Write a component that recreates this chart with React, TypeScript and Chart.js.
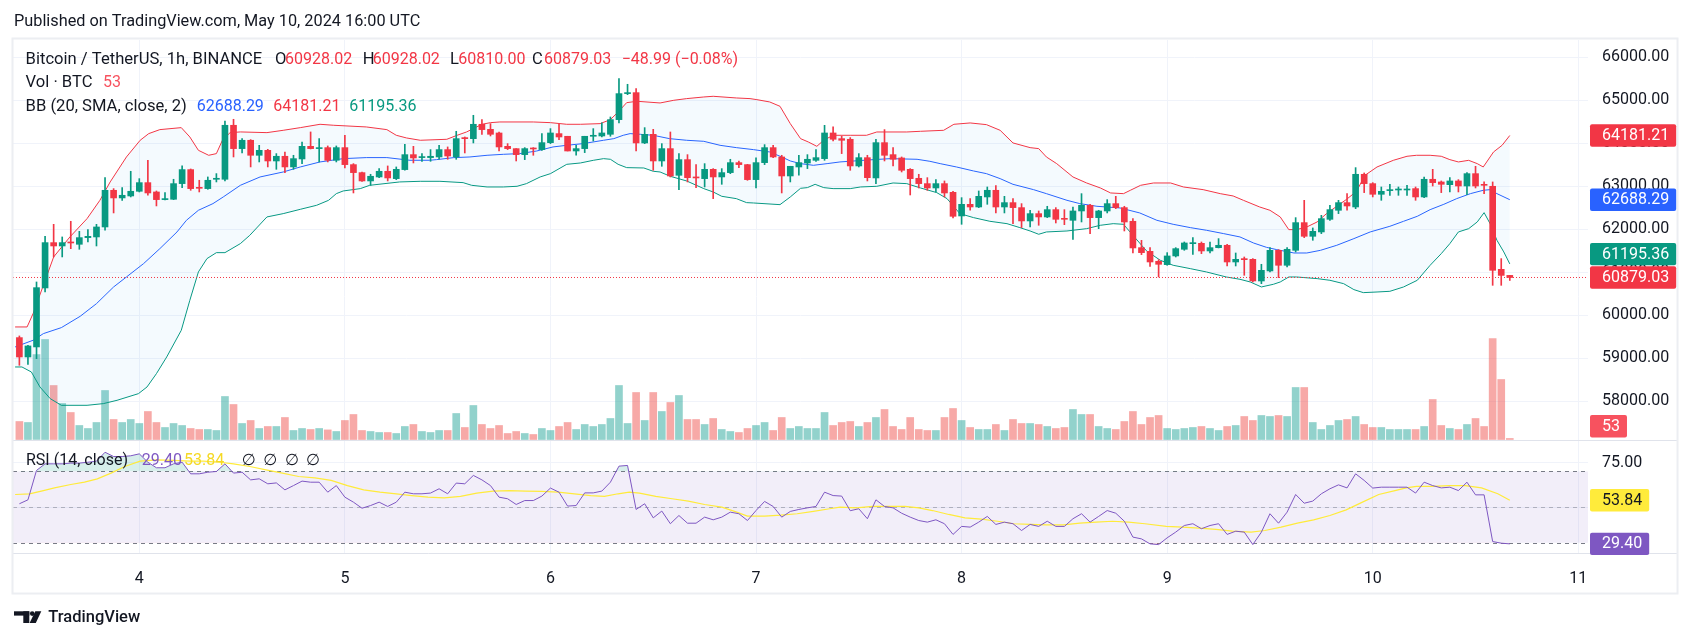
import React, { useEffect, useRef } from "react";
import { Chart, registerables } from "chart.js";

Chart.register(...registerables);

// ---------------- data (BTC/USDT 1h, Binance) ----------------
// x values are hours counted from May 3, 00:00 UTC; first candle = May 3, 10:00
const FIRST_HOUR = 10;

const opens = [
  59481, 59031, 59264, 60636, 61690, 61612, 61705, 61651, 61806, 61822,
  62054, 62907, 62729, 62775, 62884, 63085, 62868, 62690, 62698, 63062,
  63388, 62969, 62946, 63163, 63163, 64419, 63876, 64070, 63721, 63837,
  63589, 63698, 63450, 63636, 63930, 63876, 63899, 63605, 63899, 63504,
  63318, 63124, 63217, 63349, 63178, 63388, 63736, 63667, 63667, 63682,
  63853, 63682, 64132, 64108, 64442, 64325, 64240, 63930, 63876, 63736,
  63884, 63853, 64015, 64225, 64163, 63821, 63876, 64163, 64170, 64209,
  64550, 65155, 65178, 64008, 64209, 63589, 63876, 63256, 63620, 63209,
  63178, 63395, 63217, 63318, 63550, 63504, 63155, 63550, 63899, 63682,
  63240, 63449, 63542, 63604, 63643, 64240, 64108, 64093, 63473, 63666,
  63194, 64015, 63736, 63659, 63395, 63186, 63062, 62961, 63062, 62860,
  62310, 62581, 62519, 62752, 62907, 62519, 62620, 62504, 62194, 62364,
  62287, 62457, 62248, 62209, 62426, 62558, 62271, 62426, 62597, 62504,
  62186, 61573, 61488, 61256, 61178, 61380, 61535, 61666, 61674, 61496,
  61573, 61628, 61240, 61310, 61302, 60798, 61031, 61511, 61163, 61511,
  62155, 61837, 61938, 62232, 62442, 62620, 62519, 63279, 63062, 62814,
  62899, 62914, 62914, 62946, 62752, 63163, 63101, 63038, 63124, 63007,
  63294, 63046, 63000, 61069, 60928.02,
];
const highs = [
  59520, 59300, 60775, 61837, 62116, 61822, 62186, 61953, 61992, 62116,
  63202, 62946, 62969, 63349, 63178, 63605, 62891, 62853, 63163, 63473,
  63403, 63140, 63217, 63295, 64519, 64558, 64109, 64085, 63953, 63860,
  63760, 63798, 63721, 64031, 64264, 64109, 63938, 63938, 64186, 63527,
  63333, 63279, 63411, 63473, 63450, 63977, 63930, 63760, 63853, 63953,
  63915, 64279, 64147, 64651, 64550, 64457, 64263, 63992, 63876, 63899,
  63899, 64225, 64341, 64442, 64163, 63953, 64163, 64341, 64473, 64612,
  65504, 65372, 65271, 64364, 64325, 63992, 64263, 63760, 63736, 63503,
  63527, 63411, 63411, 63628, 63589, 63511, 63659, 63969, 63953, 63721,
  63465, 63721, 63736, 63853, 64418, 64380, 64163, 64132, 63760, 63721,
  64093, 64318, 63899, 63682, 63411, 63279, 63201, 63155, 63124, 62883,
  62736, 62713, 62891, 62984, 63015, 62767, 62713, 62597, 62442, 62426,
  62535, 62504, 62457, 62519, 62829, 62581, 62442, 62690, 62767, 62535,
  62248, 61744, 61573, 61294, 61457, 61573, 61705, 61806, 61705, 61705,
  61783, 61651, 61449, 61356, 61318, 61186, 61573, 61527, 61573, 62271,
  62674, 62031, 62325, 62558, 62674, 62829, 63434, 63310, 63085, 62984,
  63046, 62984, 63023, 62984, 63217, 63395, 63124, 63201, 63155, 63318,
  63465, 63101, 63101, 61318, 60928.02,
];
const lows = [
  58837, 58860, 58992, 60543, 61357, 61357, 61550, 61535, 61705, 61612,
  61977, 62380, 62674, 62752, 62868, 62791, 62543, 62682, 62690, 62969,
  62907, 62868, 62930, 63101, 63124, 63682, 63775, 63450, 63566, 63450,
  63395, 63318, 63395, 63527, 63868, 63566, 63566, 63566, 63426, 62845,
  63116, 63023, 63202, 63124, 63155, 63372, 63543, 63581, 63581, 63628,
  63628, 63628, 63775, 64008, 64209, 64170, 63821, 63853, 63589, 63620,
  63721, 63837, 63992, 64085, 63821, 63721, 63783, 64054, 64147, 64163,
  64473, 65131, 63821, 63992, 63372, 63465, 63217, 62922, 63101, 62969,
  62984, 62713, 63046, 63294, 63434, 63139, 62961, 63504, 63666, 62845,
  63101, 63256, 63411, 63581, 63604, 64054, 63760, 63372, 63449, 63124,
  63062, 63589, 63473, 63333, 62798, 62961, 62907, 62868, 62752, 62263,
  62116, 62442, 62504, 62581, 62380, 62380, 62131, 62039, 62054, 62093,
  62271, 62147, 62108, 61767, 62170, 61899, 62015, 62380, 62480, 61961,
  61449, 61411, 61139, 60891, 61163, 61356, 61511, 61418, 61434, 61449,
  61566, 61147, 61147, 60930, 60775, 60736, 61007, 60876, 61124, 61473,
  61806, 61744, 61899, 62209, 62364, 62442, 62480, 62853, 62752, 62674,
  62790, 62790, 62790, 62674, 62736, 63007, 62853, 62868, 62868, 62806,
  62961, 62829, 60697, 60697, 60810.0,
];
const closes = [
  59031, 59287, 60643, 61690, 61612, 61690, 61682, 61806, 61837, 62054,
  62907, 62729, 62791, 62884, 63085, 62845, 62690, 62713, 63062, 63388,
  62946, 62953, 63140, 63178, 64419, 63876, 64070, 63721, 63837, 63589,
  63698, 63450, 63643, 63930, 63876, 63884, 63605, 63899, 63504, 63318,
  63124, 63233, 63349, 63194, 63395, 63736, 63659, 63682, 63698, 63853,
  63705, 64108, 64108, 64442, 64318, 64209, 63915, 63876, 63736, 63876,
  63868, 64015, 64240, 64147, 63821, 63876, 64163, 64178, 64240, 64550,
  65155, 65170, 64008, 64209, 63589, 63876, 63240, 63620, 63201, 63194,
  63395, 63217, 63318, 63550, 63504, 63155, 63550, 63899, 63682, 63240,
  63465, 63550, 63628, 63666, 64240, 64093, 64070, 63473, 63666, 63201,
  64015, 63721, 63628, 63372, 63178, 63062, 62961, 63062, 62845, 62302,
  62581, 62519, 62767, 62907, 62519, 62620, 62504, 62194, 62364, 62287,
  62457, 62232, 62232, 62426, 62558, 62271, 62426, 62597, 62504, 62170,
  61566, 61457, 61240, 61186, 61380, 61550, 61682, 61682, 61496, 61573,
  61628, 61240, 61302, 61294, 60798, 61046, 61511, 61163, 61535, 62155,
  61837, 61953, 62248, 62457, 62620, 62542, 63279, 63062, 62814, 62883,
  62914, 62930, 62930, 62752, 63163, 63085, 63046, 63124, 63007, 63294,
  63007, 63023, 61046, 60928.02, 60879.03,
];
// volume in BTC
const volumes = [
  900, 850, 4250, 5000, 2700, 1800, 1350, 700, 550, 850,
  2450, 1000, 850, 1000, 800, 1400, 850, 600, 800, 700,
  550, 500, 500, 450, 2150, 1750, 800, 950, 550, 650,
  650, 1100, 450, 550, 500, 550, 480, 400, 950, 1250,
  450, 400, 350, 350, 300, 650, 750, 400, 350, 450,
  450, 1300, 600, 1700, 750, 550, 700, 300, 400, 300,
  250, 550, 450, 650, 850, 500, 750, 650, 750, 1050,
  2700, 800, 2350, 950, 2350, 1400, 1850, 2200, 1000, 1000,
  750, 1050, 500, 400, 350, 550, 700, 850, 450, 1100,
  550, 650, 550, 550, 1350, 700, 850, 900, 650, 850,
  1100, 1500, 650, 500, 1100, 500, 450, 450, 1100, 1550,
  950, 600, 500, 500, 750, 450, 1000, 800, 800, 750,
  650, 550, 600, 1500, 1250, 1250, 650, 550, 500, 900,
  1400, 750, 1100, 1200, 550, 500, 550, 600, 650, 550,
  450, 650, 700, 1150, 950, 1200, 1150, 1200, 1150, 2600,
  2600, 850, 500, 700, 950, 1000, 1150, 750, 600, 600,
  500, 500, 500, 500, 650, 2000, 700, 550, 500, 750,
  1050, 650, 5050, 3000, 53,
];
const rsiValues = [
  51.9, 54.1, 70.6, 74.3, 74.3, 74.3, 74.7, 74.7, 75.2, 75.8,
  80.8, 78.4, 78.4, 78.8, 79.9, 75.2, 72.1, 72.1, 74.3, 75.2,
  68.7, 68.7, 69.6, 70.0, 74.3, 69.1, 69.6, 65.3, 65.9, 63.1,
  63.6, 59.7, 62.1, 64.6, 64.0, 64.0, 58.4, 62.1, 55.6, 52.8,
  49.4, 50.9, 52.8, 50.4, 52.8, 58.4, 57.5, 57.5, 57.9, 60.3,
  57.5, 63.5, 63.1, 67.8, 65.3, 62.1, 55.6, 54.7, 51.5, 53.7,
  53.7, 56.2, 60.7, 58.4, 50.6, 50.9, 58.0, 58.0, 59.0, 64.0,
  73.0, 73.4, 48.7, 51.9, 44.0, 47.8, 40.7, 45.3, 41.0, 41.0,
  44.4, 42.9, 44.4, 47.2, 46.3, 42.5, 48.1, 53.2, 50.4, 44.4,
  47.6, 48.7, 49.6, 50.4, 58.4, 56.5, 56.2, 48.0, 49.1, 43.5,
  54.1, 50.4, 49.6, 46.6, 44.4, 42.5, 41.6, 42.9, 40.7, 34.7,
  39.2, 38.8, 41.6, 44.8, 40.3, 41.6, 40.7, 36.9, 40.3, 39.2,
  42.1, 39.2, 39.2, 43.5, 46.3, 41.6, 44.8, 48.1, 46.6, 42.1,
  33.2, 32.2, 29.4, 29.0, 32.8, 36.0, 39.7, 40.7, 37.9, 39.7,
  40.7, 34.7, 36.5, 36.0, 29.0, 36.0, 46.3, 41.0, 47.2, 57.1,
  52.2, 53.4, 57.5, 60.3, 62.5, 60.8, 68.7, 65.0, 60.7, 61.2,
  61.2, 61.2, 61.2, 57.9, 64.0, 62.1, 60.8, 61.2, 59.3, 64.0,
  56.9, 56.9, 30.7, 29.8, 29.4,
];

// RSI-based MA
const rsiMaHours = [
  9.5, 11.2, 12.8, 14.1, 16.0, 17.6, 19.1, 20.7, 22.3, 24.1, 26.1, 28.0, 29.9, 31.5,
  33.4, 35.0, 36.9, 38.8, 40.7, 42.6, 44.5, 46.4, 48.3, 50.2, 52.1, 54.0, 55.8, 57.7,
  59.6, 61.5, 63.4, 65.3, 67.2, 69.1, 71.0, 72.9, 74.8, 76.7, 78.3, 79.9, 81.2, 82.4,
  84.3, 86.2, 88.1, 90.0, 92.0, 93.5, 95.0, 97.0, 98.9, 100.8, 102.7, 104.6, 105.8,
  107.7, 109.6, 111.5, 113.4, 115.0, 116.6, 118.5, 120.4, 122.3, 124.2, 126.1, 128.0,
  129.9, 131.9, 133.8, 135.7, 137.6, 139.5, 141.4, 143.9, 145.8, 147.7, 149.7, 151.6,
  153.8, 155.4, 157.3, 159.2, 161.1, 163.0, 164.9, 166.8, 168.7, 170.6, 171.9, 173.1,
  175.0, 176.9, 178.8, 180.7, 182.6, 184.0,
];
const rsiMaValues = [
  57.1, 57.5, 59.3, 60.8, 62.7, 64.0, 65.9, 69.1, 72.8, 75.8, 76.5, 76.2, 75.8, 75.8,
  75.2, 74.3, 72.8, 70.9, 69.1, 67.2, 66.4, 65.0, 62.1, 59.7, 58.4, 57.5, 56.5, 55.6,
  55.2, 56.0, 57.9, 59.0, 59.3, 59.0, 58.8, 58.4, 57.5, 56.5, 56.0, 57.5, 58.4, 57.9,
  56.0, 54.7, 53.4, 51.5, 50.0, 47.6, 45.0, 45.0, 45.5, 46.3, 47.6, 49.1, 50.0,
  49.6, 50.4, 50.4, 50.4, 49.6, 48.1, 45.9, 44.0, 43.3, 42.1, 40.7, 40.3,
  40.1, 40.1, 41.0, 41.6, 42.1, 41.6, 40.7, 39.2, 38.8, 38.2, 37.5, 36.5,
  36.0, 36.9, 38.8, 41.0, 42.9, 45.3, 48.5, 52.8, 57.1, 59.3, 60.8, 61.6,
  61.6, 62.1, 62.1, 60.8, 57.5, 53.84,
];

// Bollinger Bands (20, SMA, close, 2)
const bbUpperHours = [
  9.5, 10.9, 11.6, 12.8, 14.0, 15.9, 17.9, 19.4, 20.6, 22.5, 24.1, 25.1, 26.4, 28.9, 29.9,
  30.9, 32.1, 33.0, 33.7, 34.6, 35.8, 38.9, 40.8, 42.8, 45.1, 46.7, 50.5, 52.9, 54.0, 55.2,
  56.8, 59.9, 61.1, 62.2, 63.0, 64.0, 65.0, 66.1, 70.0, 72.0, 73.9, 75.5, 77.8, 79.0, 79.9,
  80.9, 82.1, 84.8, 86.4, 87.9, 89.9, 91.0, 93.7, 95.3, 96.1, 97.6, 98.8, 100.0, 101.2,
  102.1, 103.1, 103.9, 105.0, 107.0, 108.9, 110.1, 113.6, 115.2, 117.9, 119.1, 121.0,
  122.9, 124.5, 126.0, 128.0, 129.0, 129.9, 131.1, 133.0, 134.6, 136.2, 137.4, 138.9,
  139.7, 140.9, 142.4, 144.4, 145.9, 148.2, 150.2, 151.7, 152.9, 154.8, 156.0, 157.2,
  158.2, 159.1, 160.3, 161.5, 162.6, 163.8, 164.9, 166.1, 167.1, 168.5, 170.4, 172.0,
  173.1, 174.7, 176.0, 177.0, 178.0, 179.2, 180.2, 180.9, 182.1, 183.1, 184.0,
];
const bbUpper = [
  59729, 59729, 60039, 60698, 61357, 61822, 62248, 62674, 63101, 63682, 64070, 64225, 64318, 64364, 64147,
  63837, 63721, 63760, 64070, 64248, 64264, 64248, 64302, 64364, 64442, 64419, 64380, 64318, 64186, 64124,
  64070, 64093, 64186, 64263, 64341, 64442, 64480, 64496, 64496, 64480, 64442, 64442, 64457, 64550, 64728,
  64945, 64977, 64938, 65000, 65039, 65077, 65093, 65054, 65039, 65015, 64961, 64860, 64457, 64108,
  64031, 63930, 64070, 64186, 64186, 64186, 64263, 64263, 64279, 64302, 64442, 64473,
  64434, 64302, 64008, 63899, 63876, 63682, 63527, 63217, 63077, 62961, 62845, 62829,
  62907, 63023, 63077, 63077, 62984, 62922, 62829, 62775, 62674, 62519, 62442, 62287,
  61992, 61992, 62054, 62170, 62364, 62535, 62690, 62883, 63256, 63449, 63604, 63698,
  63721, 63721, 63698, 63620, 63566, 63604, 63527, 63449, 63798, 63953, 64181.21,
];
const bbMiddleHours = [
  9.5, 11.6, 12.8, 14.9, 17.1, 19.0, 21.0, 22.5, 24.5, 26.4, 28.4, 29.5, 30.9, 32.6, 33.8,
  35.8, 38.1, 40.8, 42.8, 45.1, 47.8, 50.5, 52.9, 55.6, 57.9, 58.7, 60.7, 62.6, 64.6, 66.5,
  68.4, 70.4, 72.3, 73.9, 75.8, 78.2, 79.4, 80.5, 81.3, 82.5, 84.0, 85.9, 87.9, 89.9, 91.8,
  93.7, 95.7, 97.6, 99.0, 100.0, 101.2, 102.7, 104.3, 105.8, 109.7, 111.7, 114.8, 116.3,
  117.5, 119.4, 121.4, 122.9, 124.5, 126.0, 128.4, 129.9, 132.3, 133.8, 135.8, 138.5,
  140.8, 142.8, 144.7, 146.7, 148.6, 150.6, 152.5, 154.1, 155.6, 156.8, 158.8, 160.3,
  161.9, 163.8, 165.8, 167.7, 170.0, 171.6, 173.2, 174.7, 176.3, 177.8, 179.4, 180.9,
  181.7, 182.5, 184.0,
];
const bbMiddle = [
  59264, 59419, 59574, 59713, 59977, 60271, 60659, 60891, 61202, 61550, 61938, 62209, 62442, 62597, 62752,
  63023, 63217, 63333, 63450, 63566, 63643, 63667, 63667, 63605, 63605, 63620, 63666, 63682, 63721, 63744,
  63760, 63821, 63915, 63953, 63992, 64070, 64108, 64186, 64225, 64209, 64186, 64108, 64070, 64046, 63953,
  63899, 63853, 63798, 63682, 63589, 63527, 63488, 63527, 63566, 63620, 63643, 63628, 63581,
  63527, 63449, 63356, 63294, 63178, 63046, 62922, 62829, 62674, 62597, 62535, 62496,
  62380, 62209, 62116, 62039, 61977, 61899, 61822, 61680, 61580, 61527, 61449, 61449,
  61511, 61628, 61783, 61938, 62070, 62186, 62302, 62457, 62581, 62713, 62829, 62907,
  62922, 62829, 62688.29,
];
const bbLowerHours = [
  9.5, 10.3, 11.4, 12.4, 13.6, 14.9, 17.9, 19.8, 21.4, 23.9, 24.9, 26.0, 27.2, 28.9, 29.9,
  30.9, 31.9, 33.0, 34.0, 35.8, 36.9, 38.9, 40.8, 42.8, 44.7, 46.1, 47.0, 47.8, 49.8, 50.9,
  54.4, 56.8, 59.1, 61.8, 62.8, 64.6, 66.5, 68.1, 69.2, 70.8, 72.0, 73.9, 75.5, 77.0, 78.2,
  79.0, 79.9, 80.9, 82.9, 84.0, 84.8, 86.0, 87.9, 89.9, 91.0, 92.0, 93.7, 94.9, 95.7, 98.8,
  100.0, 101.2, 102.0, 102.9, 103.9, 105.0, 107.0, 108.2, 110.1, 112.0, 113.6, 115.2, 117.1,
  118.3, 119.8, 121.4, 123.3, 125.3, 126.8, 128.0, 129.0, 129.9, 132.3, 134.6, 136.2, 137.7,
  138.9, 140.0, 141.6, 143.2, 144.7, 146.7, 148.6, 150.9, 152.5, 153.7, 155.0, 156.4, 157.2,
  158.2, 159.1, 161.5, 163.0, 164.6, 165.8, 166.9, 168.5, 170.0, 171.6, 173.2, 174.7, 176.0,
  177.0, 178.0, 179.2, 180.2, 181.0, 181.7, 182.5, 183.3, 184.0,
];
const bbLower = [
  58798, 58798, 58682, 58333, 58062, 57907, 57907, 57946, 58023, 58178, 58333, 58643, 59031, 59651, 60349,
  61008, 61318, 61457, 61457, 61667, 61860, 62287, 62364, 62465, 62558, 62674, 62829, 62891, 62946, 63023,
  63101, 63116, 63116, 63085, 63023, 62984, 62984, 63000, 63062, 63217, 63294, 63511, 63542, 63604, 63643,
  63628, 63511, 63434, 63426, 63349, 63333, 63232, 63124, 62946, 62868, 62767, 62713, 62620, 62612, 62573,
  62752, 62953, 62969, 63046, 62969, 62946, 62946, 62984, 63000, 63077, 63062, 62961, 62853,
  62713, 62364, 62271, 62186, 62131, 62039, 61961, 61884, 61938, 61961, 62015, 62093, 62131,
  62116, 61860, 61496, 61279, 61163, 61085, 61007, 60891, 60837, 60775, 60659, 60721, 60775,
  60891, 60891, 60853, 60814, 60736, 60597, 60527, 60542, 60558, 60659, 60814, 61163, 61434,
  61666, 61938, 62015, 62170, 62387, 62131, 61744, 61473, 61195.36,
];

const dayTickHours = [24, 48, 72, 96, 120, 144, 168, 192];
const dayTickLabels = ["4", "5", "6", "7", "8", "9", "10", "11"];
const priceTicks = [58000, 59000, 60000, 61000, 62000, 63000, 64000, 65000, 66000];
const rsiTicks = [50, 75];
const rsiLevels = [70, 50, 30];

// visible window
const VIEW_START = 9.255;
const VIEW_END = 193.13;
const PRICE_MIN = 57100;
const PRICE_MAX = 66402;
const RSI_MIN = 24.28;
const RSI_MAX = 87.67;
const VOL_MIN = -5675;
const VOL_MAX = 19975;

// ---------------- style ----------------
const FONT_FAMILY = 'Roboto, "Liberation Sans", "DejaVu Sans", sans-serif';
const TEXT = "#131722";
const UP = "#089981";
const DOWN = "#F23645";
const BB_BASIS = "#2962FF";
const RSI_COLOR = "#7E57C2";
const RSI_MA_COLOR = "#FFEB3B";
const VOL_LABEL = "#F7525F";
const GRID = "#f0f3fa";
const SEP = "#e0e3eb";

const font = (size: number, weight: string | number = "normal") => `${weight} ${size}px ${FONT_FAMILY}`;
const fmt = (v: number) => v.toFixed(2);

function roundRect(ctx: CanvasRenderingContext2D, x: number, y: number, w: number, h: number, r: number) {
  ctx.beginPath();
  ctx.moveTo(x + r, y);
  ctx.lineTo(x + w - r, y);
  ctx.quadraticCurveTo(x + w, y, x + w, y + r);
  ctx.lineTo(x + w, y + h - r);
  ctx.quadraticCurveTo(x + w, y + h, x + w - r, y + h);
  ctx.lineTo(x + r, y + h);
  ctx.quadraticCurveTo(x, y + h, x, y + h - r);
  ctx.lineTo(x, y + r);
  ctx.quadraticCurveTo(x, y, x + r, y);
  ctx.closePath();
}

const panesPlugin = {
  id: "panes",
  beforeDatasetsDraw(chart: any) {
    const { ctx, chartArea: a } = chart;
    const yr = chart.scales.yr;
    const yTop = yr.getPixelForValue(rsiLevels[0]);
    const yBot = yr.getPixelForValue(rsiLevels[2]);
    ctx.save();
    ctx.fillStyle = "rgba(126,87,194,0.1)";
    ctx.fillRect(a.left, yTop, a.right - a.left, yBot - yTop);
    ctx.setLineDash([4, 4]);
    ctx.lineWidth = 1;
    rsiLevels.forEach((lvl, i) => {
      const y = Math.round(yr.getPixelForValue(lvl)) + 0.5;
      ctx.strokeStyle = i === 1 ? "rgba(120,123,134,0.5)" : "rgba(120,123,134,1)";
      ctx.beginPath();
      ctx.moveTo(a.left, y);
      ctx.lineTo(a.right, y);
      ctx.stroke();
    });
    ctx.restore();
  },
  afterDraw(chart: any) {
    const { ctx, chartArea: a } = chart;
    const sy = chart.scales.y;
    const syr = chart.scales.yr;
    const syv = chart.scales.yv;
    const n = closes.length;
    const frameL = 12.5;
    const frameR = 1677.5;
    const frameT = 38.5;
    const frameB = 593.5;

    ctx.save();
    // pane separator + time-axis line + frame
    ctx.strokeStyle = SEP;
    ctx.lineWidth = 1;
    const sepY = Math.round(sy.bottom) + 0.5;
    ctx.beginPath();
    ctx.moveTo(frameL, sepY);
    ctx.lineTo(frameR, sepY);
    const axY = Math.round(a.bottom) + 0.5;
    ctx.moveTo(frameL, axY);
    ctx.lineTo(frameR, axY);
    ctx.stroke();
    ctx.lineWidth = 2;
    ctx.strokeStyle = "#eceef2";
    ctx.strokeRect(frameL, frameT, frameR - frameL, frameB - frameT);

    // texts
    ctx.textBaseline = "middle";
    ctx.textAlign = "left";
    const put = (t: string, x: number, y: number, c: string, f = font(16)) => {
      ctx.font = f;
      ctx.fillStyle = c;
      ctx.fillText(t, x, y);
      return x + ctx.measureText(t).width;
    };
    const wordFont = font(16.6);

    put("Published on TradingView.com, May 10, 2024 16:00 UTC", 14, 21.5, TEXT, font(16.3));

    // legend line 1
    const last = n - 1;
    const lastUp = closes[last] >= opens[last];
    const valColor = lastUp ? UP : DOWN;
    const y1 = 59.5;
    put("Bitcoin / TetherUS, 1h, BINANCE", 25.6, y1, TEXT, wordFont);
    const ohlc: [string, number, number, number][] = [
      ["O", opens[last], 275, 285],
      ["H", highs[last], 362.7, 372.7],
      ["L", lows[last], 450, 458.3],
      ["C", closes[last], 532, 544],
    ];
    ohlc.forEach(([k, v, xk, xv]) => {
      put(k, xk, y1, TEXT, wordFont);
      put(fmt(v), xv, y1, valColor);
    });
    const prev = closes[last - 1];
    const ch = closes[last] - prev;
    const pct = (ch / prev) * 100;
    const sign = ch < 0 ? "\u2212" : "+";
    put(`${sign}${Math.abs(ch).toFixed(2)} (${sign}${Math.abs(pct).toFixed(2)}%)`, 621.7, y1, valColor);

    // legend line 2
    const y2 = 83.3;
    put("Vol \u00b7 BTC", 25.6, y2, TEXT, wordFont);
    put(String(volumes[last]), 103, y2, VOL_LABEL);

    // legend line 3
    const y3 = 107;
    put("BB (20, SMA, close, 2)", 25.6, y3, TEXT, wordFont);
    put(fmt(bbMiddle[bbMiddle.length - 1]), 196.7, y3, BB_BASIS);
    put(fmt(bbUpper[bbUpper.length - 1]), 273.3, y3, DOWN);
    put(fmt(bbLower[bbLower.length - 1]), 349.3, y3, UP);

    // RSI legend
    const y4 = 461.3;
    put("RSI (14, close)", 26, y4, TEXT);
    put(fmt(rsiValues[last]), 141.7, y4, RSI_COLOR);
    put(fmt(rsiMaValues[rsiMaValues.length - 1]), 184, y4, "#F5D924");
    [241.7, 263.3, 285, 306].forEach((x) => put("\u2205", x, y4, TEXT));

    // axis value labels
    const boxL = a.right + 2;
    const txtX = a.right + 14;
    const boxH = 22.4;
    const drawBox = (t: string, yc: number, bg: string, fg: string) => {
      ctx.font = font(16);
      const w = ctx.measureText(t).width;
      ctx.fillStyle = bg;
      roundRect(ctx, boxL, yc - boxH / 2, txtX - boxL + w + 7, boxH, 2);
      ctx.fill();
      ctx.fillStyle = fg;
      ctx.fillText(t, txtX, yc + 0.5);
    };

    const priceLabels = [
      { v: bbUpper[bbUpper.length - 1], bg: DOWN },
      { v: bbMiddle[bbMiddle.length - 1], bg: BB_BASIS },
      { v: bbLower[bbLower.length - 1], bg: UP },
      { v: closes[last], bg: valColor },
    ].map((l) => ({ ...l, y: sy.getPixelForValue(l.v) }));
    // resolve overlaps from the bottom up
    const sorted = [...priceLabels].sort((p, q) => q.y - p.y);
    for (let i = 1; i < sorted.length; i++) {
      const below = sorted[i - 1];
      if (sorted[i].y > below.y - boxH - 1) sorted[i].y = below.y - boxH - 1;
    }
    priceLabels.slice(0, 3).forEach((l) => drawBox(fmt(l.v), l.y, l.bg, "#ffffff"));
    drawBox(fmt(priceLabels[3].v), priceLabels[3].y, priceLabels[3].bg, "#ffffff");

    const volY = Math.min(syv.getPixelForValue(volumes[last]), sy.bottom - 2.5 - boxH / 2);
    drawBox(String(volumes[last]), volY, VOL_LABEL, "#ffffff");

    drawBox(fmt(rsiMaValues[rsiMaValues.length - 1]), syr.getPixelForValue(rsiMaValues[rsiMaValues.length - 1]), RSI_MA_COLOR, TEXT);
    drawBox(fmt(rsiValues[last]), syr.getPixelForValue(rsiValues[last]), RSI_COLOR, "#ffffff");

    // TradingView logo
    ctx.fillStyle = TEXT;
    ctx.fillRect(14, 611.3, 15.3, 4.3);
    ctx.fillRect(23.3, 611.3, 6, 11.7);
    ctx.beginPath();
    ctx.arc(32.2, 613.6, 2.3, 0, Math.PI * 2);
    ctx.fill();
    ctx.beginPath();
    ctx.moveTo(35.3, 611.3);
    ctx.lineTo(41.3, 611.3);
    ctx.lineTo(35.8, 623);
    ctx.lineTo(29.6, 623);
    ctx.closePath();
    ctx.fill();
    put("TradingView", 48.3, 617.8, TEXT, font(16.5, 500));

    ctx.restore();
  },
};

export default function App() {
  const ref = useRef<HTMLCanvasElement | null>(null);

  useEffect(() => {
    document.body.style.margin = "0";
    const canvas = ref.current;
    if (!canvas) return;
    const hours = opens.map((_, i) => FIRST_HOUR + i);
    const isUp = (i: number) => closes[i] >= opens[i];
    const pts = (xs: number[], ys: number[]) => xs.map((x, i) => ({ x, y: ys[i] }));
    const lastClose = closes[closes.length - 1];

    const chart = new Chart(canvas, {
      type: "bar",
      data: {
        datasets: [
          {
            type: "bar",
            label: "body",
            data: hours.map((h, i) => ({ x: h, y: [opens[i], closes[i]] })) as any,
            backgroundColor: (c: any) => (isUp(c.dataIndex) ? UP : DOWN),
            barThickness: 6,
            minBarLength: 1,
            grouped: false,
            borderWidth: 0,
            yAxisID: "y",
            order: 1,
          },
          {
            type: "bar",
            label: "wick",
            data: hours.map((h, i) => ({ x: h, y: [lows[i], highs[i]] })) as any,
            backgroundColor: (c: any) => (isUp(c.dataIndex) ? UP : DOWN),
            barThickness: 1,
            grouped: false,
            borderWidth: 0,
            yAxisID: "y",
            order: 2,
          },
          {
            type: "bar",
            label: "volume",
            data: hours.map((h, i) => ({ x: h, y: volumes[i] })) as any,
            backgroundColor: (c: any) => (isUp(c.dataIndex) ? "rgba(38,166,154,0.5)" : "rgba(239,83,80,0.5)"),
            barThickness: 7,
            grouped: false,
            borderWidth: 0,
            yAxisID: "yv",
            order: 30,
          },
          {
            type: "line",
            label: "bbUpper",
            data: pts(bbUpperHours, bbUpper) as any,
            borderColor: DOWN,
            borderWidth: 1,
            pointRadius: 0,
            backgroundColor: "rgba(33,150,243,0.05)",
            fill: "+2",
            yAxisID: "y",
            order: 10,
          },
          {
            type: "line",
            label: "bbBasis",
            data: pts(bbMiddleHours, bbMiddle) as any,
            borderColor: BB_BASIS,
            borderWidth: 1,
            pointRadius: 0,
            fill: false,
            yAxisID: "y",
            order: 10,
          },
          {
            type: "line",
            label: "bbLower",
            data: pts(bbLowerHours, bbLower) as any,
            borderColor: UP,
            borderWidth: 1,
            pointRadius: 0,
            fill: false,
            yAxisID: "y",
            order: 10,
          },
          {
            type: "line",
            label: "lastPrice",
            data: [
              { x: VIEW_START, y: lastClose },
              { x: VIEW_END, y: lastClose },
            ] as any,
            borderColor: DOWN,
            borderWidth: 1,
            borderDash: [1, 2],
            pointRadius: 0,
            fill: false,
            yAxisID: "y",
            order: 5,
          },
          {
            type: "line",
            label: "rsiOverbought",
            data: pts(hours, rsiValues) as any,
            borderWidth: 0,
            borderColor: "rgba(0,0,0,0)",
            pointRadius: 0,
            fill: { target: { value: 70 }, above: "rgba(8,153,129,0.16)", below: "rgba(0,0,0,0)" },
            yAxisID: "yr",
            order: 8,
          },
          {
            type: "line",
            label: "rsiOversold",
            data: pts(hours, rsiValues) as any,
            borderWidth: 0,
            borderColor: "rgba(0,0,0,0)",
            pointRadius: 0,
            fill: { target: { value: 30 }, above: "rgba(0,0,0,0)", below: "rgba(242,54,69,0.16)" },
            yAxisID: "yr",
            order: 8,
          },
          {
            type: "line",
            label: "rsiMa",
            data: pts(rsiMaHours, rsiMaValues) as any,
            borderColor: RSI_MA_COLOR,
            borderWidth: 1.2,
            pointRadius: 0,
            fill: false,
            yAxisID: "yr",
            order: 4,
          },
          {
            type: "line",
            label: "rsi",
            data: pts(hours, rsiValues) as any,
            borderColor: RSI_COLOR,
            borderWidth: 1,
            pointRadius: 0,
            fill: false,
            yAxisID: "yr",
            order: 3,
          },
        ],
      },
      options: {
        responsive: false,
        maintainAspectRatio: false,
        animation: false,
        devicePixelRatio: 1,
        events: [],
        layout: { padding: { left: 13, right: 17, top: 40, bottom: 49 } },
        plugins: { legend: { display: false }, tooltip: { enabled: false } },
        scales: {
          x: {
            type: "linear",
            position: "bottom",
            min: VIEW_START,
            max: VIEW_END,
            offset: false,
            grid: { color: GRID, drawTicks: false, offset: false },
            border: { display: false },
            afterBuildTicks: (s: any) => {
              s.ticks = dayTickHours.map((v) => ({ value: v }));
            },
            afterFit: (s: any) => {
              s.height = 40;
            },
            ticks: {
              autoSkip: false,
              maxRotation: 0,
              padding: 16,
              color: TEXT,
              font: { family: FONT_FAMILY, size: 16 },
              callback: (v: any) => {
                const i = dayTickHours.indexOf(Number(v));
                return i >= 0 ? dayTickLabels[i] : "";
              },
            },
          },
          y: {
            type: "linear",
            position: "right",
            stack: "panes",
            stackWeight: 400,
            min: PRICE_MIN,
            max: PRICE_MAX,
            beginAtZero: false,
            grid: { color: GRID, drawTicks: false },
            border: { display: false },
            afterBuildTicks: (s: any) => {
              s.ticks = priceTicks.map((v) => ({ value: v }));
            },
            afterFit: (s: any) => {
              s.width = 89;
            },
            ticks: {
              autoSkip: false,
              padding: 14,
              color: TEXT,
              font: { family: FONT_FAMILY, size: 16 },
              callback: (v: any) => Number(v).toFixed(2),
            },
          },
          yr: {
            type: "linear",
            position: "right",
            stack: "panes",
            stackWeight: 113,
            min: RSI_MIN,
            max: RSI_MAX,
            beginAtZero: false,
            grid: { color: GRID, drawTicks: false },
            border: { display: false },
            afterBuildTicks: (s: any) => {
              s.ticks = rsiTicks.map((v) => ({ value: v }));
            },
            afterFit: (s: any) => {
              s.width = 89;
            },
            ticks: {
              autoSkip: false,
              padding: 14,
              color: TEXT,
              font: { family: FONT_FAMILY, size: 16 },
              callback: (v: any) => Number(v).toFixed(2),
            },
          },
          yv: {
            type: "linear",
            position: "left",
            display: false,
            min: VOL_MIN,
            max: VOL_MAX,
            beginAtZero: false,
          },
        },
      } as any,
      plugins: [panesPlugin as any],
    });
    return () => chart.destroy();
  }, []);

  return (
    <div style={{ position: "absolute", left: 0, top: 0, width: 1694, height: 642, background: "#ffffff" }}>
      <canvas ref={ref} width={1694} height={642} style={{ display: "block", width: 1694, height: 642 }} />
    </div>
  );
}
